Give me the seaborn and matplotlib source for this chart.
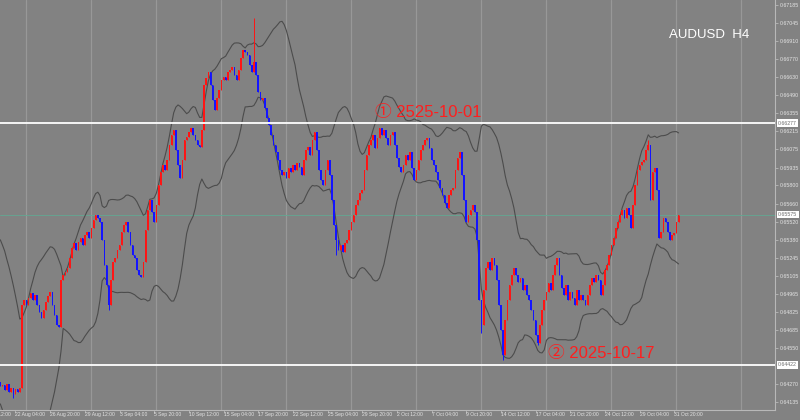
import numpy as np
import pandas as pd
import seaborn as sns
import matplotlib.pyplot as plt
import matplotlib.transforms as mtransforms

# AUDUSD H4 closes, one per 4h bar from 21 Aug 2025 04:00 (server time)
# the warm-up bars sit left of the view and only feed the Bollinger band
warmup_closes = [0.65164, 0.65134, 0.65149, 0.65088, 0.65058, 0.65035, 0.64996, 0.64958, 0.64919, 0.64842,
                 0.64780, 0.64689, 0.64597, 0.64520, 0.64458, 0.64396, 0.64366, 0.64320, 0.64290, 0.64259]
closes = [
    0.64267, 0.64228, 0.64274, 0.64213, 0.64243, 0.64197, 0.64236, 0.64213, 0.64243, 0.64881,
    0.64919, 0.64881, 0.64934, 0.64973, 0.64919, 0.64958, 0.64881, 0.64827, 0.64780, 0.64842,
    0.64904, 0.64950, 0.64981, 0.64881, 0.64804, 0.64727, 0.64712, 0.65073, 0.65111, 0.65134,
    0.65164, 0.65241, 0.65318, 0.65357, 0.65303, 0.65365, 0.65395, 0.65341, 0.65418, 0.65441,
    0.65395, 0.65472, 0.65533, 0.65572, 0.65549, 0.65518, 0.65380, 0.65188, 0.65035, 0.64881,
    0.65073, 0.65211, 0.65241, 0.65303, 0.65341, 0.65441, 0.65495, 0.65518, 0.65441, 0.65341,
    0.65265, 0.65241, 0.65149, 0.65111, 0.65096, 0.65211, 0.65457, 0.65610, 0.65687, 0.65595,
    0.65518, 0.65648, 0.65802, 0.65902, 0.65956, 0.65917, 0.65994, 0.66109, 0.66186, 0.66225,
    0.66071, 0.65956, 0.65856, 0.65994, 0.66148, 0.66171, 0.66209, 0.66240, 0.66186, 0.66148,
    0.66109, 0.66094, 0.66225, 0.66571, 0.66624, 0.66670, 0.66571, 0.66455, 0.66378, 0.66470,
    0.66532, 0.66609, 0.66632, 0.66609, 0.66670, 0.66685, 0.66708, 0.66647, 0.66609, 0.66685,
    0.66778, 0.66839, 0.66824, 0.66801, 0.66724, 0.66670, 0.66747, 0.66647, 0.66516, 0.66455,
    0.66470, 0.66394, 0.66317, 0.66263, 0.66186, 0.66109, 0.66056, 0.65994, 0.65917, 0.65879,
    0.65902, 0.65856, 0.65933, 0.65902, 0.65956, 0.65917, 0.65971, 0.65940, 0.65879, 0.65994,
    0.66071, 0.66094, 0.66033, 0.66148, 0.66209, 0.66071, 0.65917, 0.65841, 0.65802, 0.65917,
    0.65994, 0.65879, 0.65687, 0.65495, 0.65380, 0.65303, 0.65341, 0.65288, 0.65357, 0.65380,
    0.65457, 0.65518, 0.65572, 0.65648, 0.65687, 0.65741, 0.65764, 0.65917, 0.66033, 0.66109,
    0.66148, 0.66186, 0.66086, 0.66163, 0.66240, 0.66186, 0.66225, 0.66163, 0.66109, 0.66186,
    0.66209, 0.66109, 0.66010, 0.65940, 0.65902, 0.65956, 0.66033, 0.65994, 0.66056, 0.65933,
    0.65841, 0.65917, 0.65994, 0.66071, 0.66109, 0.66148, 0.66163, 0.66086, 0.65994, 0.65956,
    0.65902, 0.65841, 0.65779, 0.65725, 0.65664, 0.65625, 0.65725, 0.65764, 0.65779, 0.65917,
    0.66010, 0.66056, 0.65879, 0.65687, 0.65518, 0.65572, 0.65610, 0.65648, 0.65595, 0.65380,
    0.64919, 0.64727, 0.64996, 0.65164, 0.65211, 0.65149, 0.65241, 0.65188, 0.65073, 0.64881,
    0.64689, 0.64497, 0.64765, 0.64919, 0.65035, 0.65111, 0.65164, 0.65111, 0.65058, 0.65088,
    0.64996, 0.65035, 0.64958, 0.64919, 0.64842, 0.64765, 0.64650, 0.64589, 0.64727, 0.64842,
    0.64919, 0.64981, 0.65050, 0.64996, 0.65111, 0.65188, 0.65241, 0.65111, 0.65012, 0.64958,
    0.65035, 0.64919, 0.64981, 0.64934, 0.64881, 0.64996, 0.64919, 0.64958, 0.64919, 0.64881,
    0.64958, 0.65035, 0.65088, 0.65058, 0.65111, 0.65073, 0.64958, 0.65035, 0.65149, 0.65188,
    0.65265, 0.65341, 0.65395, 0.65472, 0.65518, 0.65572, 0.65610, 0.65549, 0.65625, 0.65572,
    0.65472, 0.65648, 0.65802, 0.65917, 0.65956, 0.65979, 0.65994, 0.66071, 0.66109, 0.65687,
    0.65902, 0.65933, 0.65764, 0.65395, 0.65441, 0.65549, 0.65518, 0.65441, 0.65380, 0.65418,
    0.65434, 0.65518, 0.65575,
]
# bars whose wick reaches well past the body (bar number, wick price)
wick_bars = [5, 49, 116, 154, 221, 231, 247, 298]
wick_prices = [0.64166, 0.64842, 0.67085, 0.65265, 0.64667, 0.64458, 0.64574, 0.66148]

level_prices = [0.66277, 0.64422]
last_price = 0.65575
price_ticks = [0.67185, 0.67045, 0.66910, 0.66770, 0.66630, 0.66490, 0.66355, 0.66215, 0.66075,
               0.65935, 0.65800, 0.65660, 0.65520, 0.65380, 0.65245, 0.65105, 0.64965, 0.64825,
               0.64685, 0.64550, 0.64270, 0.64135]
first_bar = '2025-08-21 04:00'
label_bar = '2025-08-22 04:00'
symbol = 'AUDUSD  H4'
note_1 = '① 2525-10-01'
note_2 = '② 2025-10-17'

BG = '#828282'
TXT = '#e4e4e4'

sns.set_theme(style='dark', rc={'axes.facecolor': BG, 'figure.facecolor': BG})
plt.rcParams['font.family'] = ['Liberation Sans', 'Noto Sans CJK JP', 'DejaVu Sans']

# 4h time line without weekends, also running into the empty space on the right
n_pre = len(warmup_closes)
all_close = warmup_closes + closes
times = pd.date_range('2025-08-01', '2025-11-30', freq='4h')
times = times[times.dayofweek < 5]
start = times.get_loc(pd.Timestamp(first_bar))
times = times[start - n_pre:]
pos = np.arange(len(times)) - n_pre

bars = pd.DataFrame({'time': times[:len(all_close)], 'x': pos[:len(all_close)],
                     'close': all_close})
bars['open'] = bars['close'].shift(1).fillna(bars['close'])
bars['high'] = bars[['open', 'close']].max(axis=1)
bars['low'] = bars[['open', 'close']].min(axis=1)
for b, p in zip(wick_bars, wick_prices):
    row = n_pre + b
    if p > bars.loc[row, 'high']:
        bars.loc[row, 'high'] = p
    else:
        bars.loc[row, 'low'] = p

# Bollinger band 20, 2
mid = bars['close'].rolling(20).mean()
sd = bars['close'].rolling(20).std(ddof=0)
bars['upper'] = mid + 2 * sd
bars['lower'] = mid - 2 * sd

fig = plt.figure(figsize=(8, 4.2), dpi=100)
ax = fig.add_axes([0, 10 / 420, 775 / 800, 410 / 420])

# weekly grid
mondays = pos[(times.dayofweek == 0) & (times.hour == 0)]
for m in mondays:
    ax.axvline(m, color='#989898', lw=0.9, zorder=0)

# candles
up = bars['close'] >= bars['open']
colors = np.where(up, '#ff1414', '#1414ff')
body_low = bars[['open', 'close']].min(axis=1)
body_h = (bars['close'] - bars['open']).abs().clip(lower=0.00004)
ax.vlines(bars['x'], bars['low'], bars['high'], colors=colors, lw=0.7, zorder=3)
ax.bar(bars['x'], body_h, bottom=body_low, width=0.75, color=colors, linewidth=0, zorder=3)

# bands
sns.lineplot(data=bars, x='x', y='upper', ax=ax, color='#4c4c4c', lw=0.8, zorder=2)
sns.lineplot(data=bars, x='x', y='lower', ax=ax, color='#4c4c4c', lw=0.8, zorder=2)

# levels
for p in level_prices:
    ax.axhline(p, color='white', lw=1.3, zorder=4)
ax.axhline(last_price, color='#62a892', lw=0.6, zorder=1)

ax.set_xlim(-1.15, 356.5)
ax.set_ylim(0.64074, 0.67223)
ax.set_xlabel('')
ax.set_ylabel('')

for s in ['top', 'left']:
    ax.spines[s].set_visible(False)
for s in ['right', 'bottom']:
    ax.spines[s].set_color('#b8b8b8')
    ax.spines[s].set_linewidth(0.8)

# price axis on the right
ax.yaxis.tick_right()
ax.set_yticks(price_ticks, [f'{p:.5f}' for p in price_ticks])
ax.tick_params(axis='y', labelsize=3.8, labelcolor=TXT, color='#b8b8b8',
               length=2, width=0.6, pad=1.5, direction='out', right=True)

trans_y = mtransforms.blended_transform_factory(ax.transAxes, ax.transData)
for p in level_prices + [last_price]:
    ax.text(1.004, p, f'{p:.5f}', transform=trans_y, fontsize=3.8, color='#6e6e6e',
            va='center', ha='left', clip_on=False, zorder=6,
            bbox=dict(boxstyle='square,pad=0.25', fc='white', ec='none'))

# time axis, one label every 16 bars
t0 = bars.index[bars['time'] == pd.Timestamp(label_bar)][0]
label_rows = list(range(t0 - 16, len(bars), 16))
ax.set_xticks(bars.loc[[r for r in label_rows if r >= n_pre - 1], 'x'])
ax.set_xticklabels([])
ax.tick_params(axis='x', length=2, width=0.6, color='#b8b8b8', direction='out', bottom=True)
trans_x = mtransforms.blended_transform_factory(ax.transData, ax.transAxes)
for r in label_rows:
    t = bars.loc[r, 'time']
    ax.text(bars.loc[r, 'x'], -0.006, f'{t.day} {t:%b %H:%M}', transform=trans_x,
            fontsize=3.6, color=TXT, ha='left', va='top', clip_on=False)

# notes
fig.text(669 / 800, 1 - 38 / 420, symbol, fontsize=9.5, color='white', va='baseline')
fig.text(375 / 800, 1 - 117 / 420, note_1, fontsize=12, color='#ff1e1e', va='baseline')
fig.text(548 / 800, 1 - 358 / 420, note_2, fontsize=12, color='#ff1e1e', va='baseline')

fig.savefig('out.png', dpi=100, facecolor=BG)
